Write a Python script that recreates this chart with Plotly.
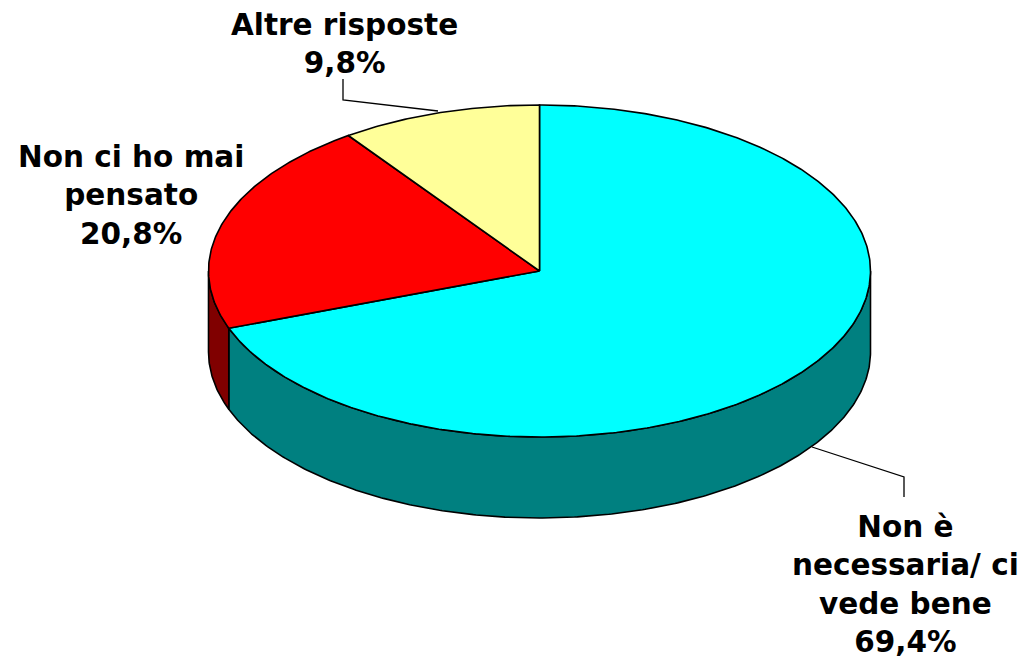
import numpy as np
import plotly.graph_objects as go

categories = ["Non è<br>necessaria/ ci<br>vede bene", "Non ci ho mai<br>pensato", "Altre risposte"]
values = [69.4, 20.8, 9.8]
value_labels = ["69,4%", "20,8%", "9,8%"]
top_colors = ["#00FFFF", "#FF0000", "#FFFF99"]
side_colors = ["#008080", "#800000", "#808040"]

CX, CY, RX, RY, DEPTH = 539.5, 271, 331, 166, 81
LINE = dict(color="black", width=1.6)
FONT = dict(family="DejaVu Sans", size=29.5, color="black")
label_pos = [(905, 584), (131, 195), (344, 44)]
leaders = [([812, 904, 904], [447, 477, 497]), ([343, 343, 438], [79, 100, 111])]


def rim(a0, a1):
    t = np.radians(np.linspace(a0, a1, max(int(abs(a1 - a0) * 2), 2)))
    return CX + RX * np.sin(t), CY - RY * np.cos(t)


fig = go.Figure()
edges = np.concatenate([[0], np.cumsum(values)]) * 3.6

# visible side walls
for i in range(len(values)):
    a0, a1 = max(edges[i], 90), min(edges[i + 1], 270)
    if a1 <= a0:
        continue
    x, y = rim(a0, a1)
    fig.add_trace(go.Scatter(
        x=np.concatenate([x, x[::-1], x[:1]]),
        y=np.concatenate([y, y[::-1] + DEPTH, y[:1]]),
        mode="lines", fill="toself", fillcolor=side_colors[i], line=LINE,
        hoverinfo="skip", showlegend=False))

# top slices
for i in range(len(values)):
    x, y = rim(edges[i], edges[i + 1])
    fig.add_trace(go.Scatter(
        x=np.concatenate([[CX], x, [CX]]),
        y=np.concatenate([[CY], y, [CY]]),
        mode="lines", fill="toself", fillcolor=top_colors[i], line=LINE,
        name=categories[i].replace("<br>", " "), showlegend=False))

for lx, ly in leaders:
    fig.add_trace(go.Scatter(x=lx, y=ly, mode="lines", line=dict(color="black", width=1.3),
                             hoverinfo="skip", showlegend=False))

for c, v, (x, y) in zip(categories, value_labels, label_pos):
    fig.add_annotation(x=x, y=y, text=f"<b>{c}<br>{v}</b>", showarrow=False, font=FONT,
                       align="center", xanchor="center", yanchor="middle", xref="x", yref="y")

fig.update_xaxes(visible=False, range=[0, 1030], fixedrange=True)
fig.update_yaxes(visible=False, range=[658, 0], fixedrange=True)
fig.update_layout(width=1030, height=658, margin=dict(l=0, r=0, t=0, b=0),
                  paper_bgcolor="white", plot_bgcolor="white")
fig.write_html("out.html", config={"displayModeBar": False},
               post_script="document.body.style.margin='0';document.body.style.overflow='hidden';")
